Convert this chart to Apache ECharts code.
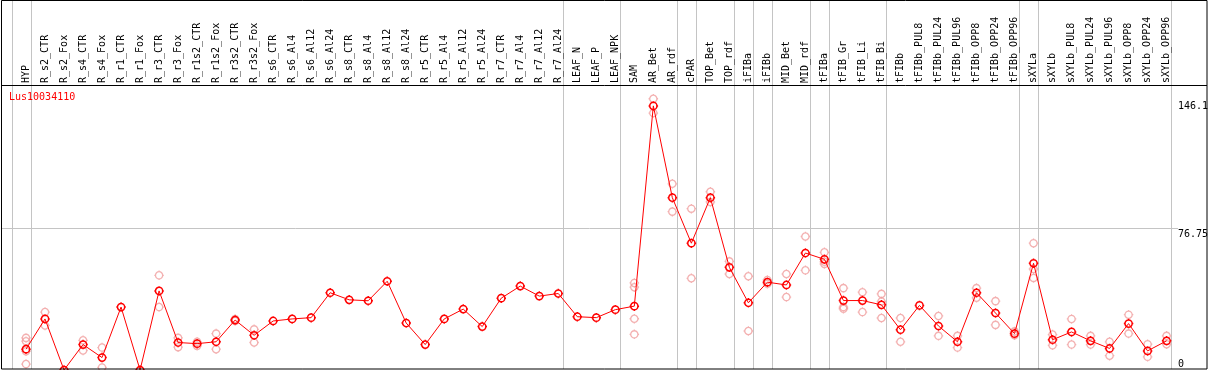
<!DOCTYPE html>
<html><head><meta charset="utf-8">
<script src="https://cdn.jsdelivr.net/npm/echarts@6/dist/echarts.min.js"></script>
<style>html,body{margin:0;padding:0;background:#fff}#c{width:1209px;height:370px}</style>
</head><body><div id="c"></div>
<script>
const categories = ['HYP','R_s2_CTR','R_s2_Fox','R_s4_CTR','R_s4_Fox','R_r1_CTR','R_r1_Fox','R_r3_CTR','R_r3_Fox','R_r1s2_CTR','R_r1s2_Fox','R_r3s2_CTR','R_r3s2_Fox','R_s6_CTR','R_s6_Al4','R_s6_Al12','R_s6_Al24','R_s8_CTR','R_s8_Al4','R_s8_Al12','R_s8_Al24','R_r5_CTR','R_r5_Al4','R_r5_Al12','R_r5_Al24','R_r7_CTR','R_r7_Al4','R_r7_Al12','R_r7_Al24','LEAF_N','LEAF_P','LEAF_NPK','SAM','AR_Bet','AR_rdf','cPAR','TOP_Bet','TOP_rdf','iFIBa','iFIBb','MID_Bet','MID_rdf','tFIBa','tFIB_Gr','tFIB_Li','tFIB_Bi','tFIBb','tFIBb_PUL8','tFIBb_PUL24','tFIBb_PUL96','tFIBb_OPP8','tFIBb_OPP24','tFIBb_OPP96','sXYLa','sXYLb','sXYLb_PUL8','sXYLb_PUL24','sXYLb_PUL96','sXYLb_OPP8','sXYLb_OPP24','sXYLb_OPP96'];

const means = [11.2,27.5,0,13.7,6.7,33.9,0,42.6,14.8,14.2,15.2,26.9,18.7,26.4,27.5,28.2,41.6,37.8,37.3,47.8,25.3,13.7,27.5,32.8,23.4,38.7,45.2,39.8,41.2,28.7,28.2,32.5,34.4,142.25,92.8,68.3,92.8,55.3,36.2,47.3,45.8,63.0,59.6,37.4,37.4,35.1,21.7,34.8,23.7,15.2,41.6,30.7,19.6,57.5,16.3,20.5,15.7,11.6,25.0,10.3,15.7];

const replicates = [
  [17.3,15.5,10.1,3.2],[31.2,24.0],[],[16.0,10.5],[12.1,1.4],[],[],[51.0,33.9],[17.3,12.3],[15.2,13.0],[19.6,11.2],[27.5,26.4],[21.9,14.8],
  [],[],[],[],[],[],[],[],[],[],[],[],[],[],[],[],[],[],[],
  [46.9,44.6,27.6,19.2],[146.1,138.4],[100.3,85.3],[86.9,49.4],[96.0,90.5],[58.5,51.7],[50.5,21.0],[48.5,46.5],[51.7,39.3],[71.9,53.7],
  [63.4,57.1,58.3],[44.1,33.9,33.0],[41.9,31.2],[41.0,36.9,28.0],[28.0,15.2],[],[29.1,18.4],[18.4,12.1],[44.1,38.9],[37.1,24.3],[20.8,18.7],
  [68.3,54.4,49.6],[19.1,13.3],[27.5,13.7],[18.4,13.7],[15.2,7.7],[29.8,19.6],[13.9,7.1],[18.4,13.9]
];

const yTickLabels = ['146.1','76.75','0'];
const yTickValues = [146.1, 76.75, 0];
const gridLineValue = 76.75;
const yMax = 153.5;
const sepAfter = ['HYP','R_r7_Al24','LEAF_NPK','AR_rdf','cPAR','TOP_rdf','iFIBa','iFIBb','MID_rdf','tFIBa','tFIB_Bi','tFIBb_OPP96','sXYLa','sXYLb_OPP96'];
const titleText = 'Lus10034110';

const MONO = 'DejaVu Sans Mono';
const marker = 'path://M5,1.2 C7.099,1.2 8.8,2.901 8.8,5 C8.8,7.099 7.099,8.8 5,8.8 C2.901,8.8 1.2,7.099 1.2,5 C1.2,2.901 2.901,1.2 5,1.2 Z M5,0 L5,1.2 M5,8.8 L5,10 M0,5 L1.2,5 M8.8,5 L10,5';

const repData = [];
replicates.forEach((arr, i) => arr.forEach(v => repData.push([i, v])));

const chart = echarts.init(document.getElementById('c'), null, {renderer: 'canvas'});
chart.setOption({
  animation: false,
  backgroundColor: '#fff',
  title: {text: titleText, left: 9, top: 92.5, padding: 0,
    textStyle: {color: '#ff0000', fontSize: 10, fontFamily: MONO, fontWeight: 'normal'}},
  grid: {left: 16.5, right: 32.9, top: 85, bottom: -1.6},
  xAxis: {type: 'category', data: categories, position: 'top', boundaryGap: true,
    axisLine: {show: false}, axisTick: {show: false}, splitLine: {show: false},
    axisLabel: {rotate: 90, interval: 0, margin: 2, fontSize: 10, fontFamily: MONO, color: '#000'}},
  yAxis: {type: 'value', min: 0, max: yMax, show: false},
  series: [
    {type: 'scatter', data: repData, symbol: marker, symbolSize: 9.5, z: 2, silent: true,
      itemStyle: {color: 'rgba(0,0,0,0)', borderColor: '#f09c9c', borderWidth: 1.3}},
    {type: 'line', data: means, symbol: marker, symbolSize: 9.5, showAllSymbol: true, z: 3, silent: true,
      lineStyle: {color: '#ff0000', width: 1},
      itemStyle: {color: 'rgba(0,0,0,0)', borderColor: '#ff0000', borderWidth: 1.5}}
  ]
});

const c0 = chart.convertToPixel({xAxisIndex: 0}, 0);
const band = chart.convertToPixel({xAxisIndex: 0}, 1) - c0;
const sepIdx = [-1].concat(sepAfter.map(n => categories.indexOf(n)));
const graphics = [];
sepIdx.forEach(j => {
  const x = Math.round(c0 + (j + 0.237) * band) + 0.5;
  graphics.push({type: 'line', z: -10, silent: true, shape: {x1: x, y1: 0, x2: x, y2: 369},
    style: {stroke: '#c4c4c4', lineWidth: 1}});
});
const gy = Math.round(chart.convertToPixel({yAxisIndex: 0}, gridLineValue)) + 0.5;
graphics.push({type: 'line', z: -10, silent: true, shape: {x1: 1, y1: gy, x2: 1178, y2: gy},
  style: {stroke: '#c4c4c4', lineWidth: 1}});
yTickValues.forEach((v, i) => {
  const py = chart.convertToPixel({yAxisIndex: 0}, v);
  const isZero = v === 0;
  graphics.push({type: 'text', z: 10, silent: true, x: 1178, y: isZero ? 369 : py + (i === 0 ? 3 : 2),
    style: {text: yTickLabels[i], fill: '#000', font: '10px "' + MONO + '"', textAlign: 'left',
      textVerticalAlign: isZero ? 'bottom' : 'top'}});
});
graphics.push({type: 'rect', z: 10, silent: true, shape: {x: 1.5, y: 0.5, width: 1205.5, height: 368.5},
  style: {fill: 'none', stroke: '#000', lineWidth: 1}});
graphics.push({type: 'line', z: 10, silent: true, shape: {x1: 1.5, y1: 85.5, x2: 1207, y2: 85.5},
  style: {stroke: '#000', lineWidth: 1}});
chart.setOption({graphic: graphics});
</script>
</body></html>
